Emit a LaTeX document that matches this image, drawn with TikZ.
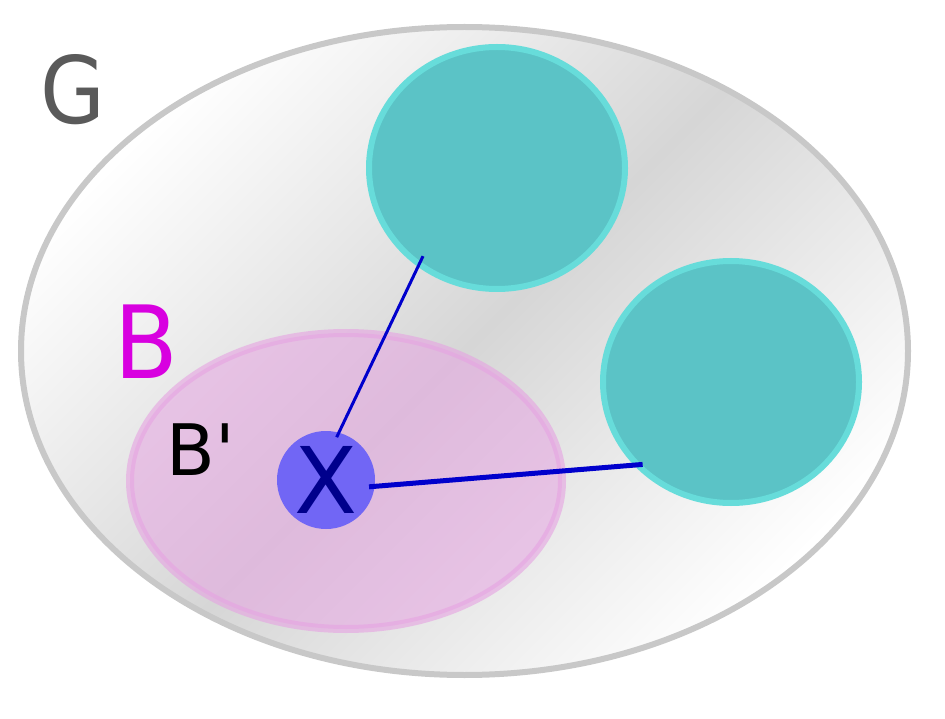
\documentclass[tikz,border=0pt]{standalone}
\usepackage{fontspec}
\setmainfont{DejaVu Sans}
\usetikzlibrary{shapes.geometric,calc}
\definecolor{gborder}{RGB}{200,200,200}
\definecolor{gmid}{RGB}{214,214,214}
\definecolor{tealf}{RGB}{91,195,198}
\definecolor{tealb}{RGB}{103,220,218}
\definecolor{pinkf}{RGB}{230,164,226}
\definecolor{xblue}{RGB}{113,102,245}
\definecolor{linkc}{RGB}{0,0,204}
\definecolor{xtext}{RGB}{0,0,140}
\definecolor{gtext}{RGB}{90,90,90}
\definecolor{btext}{RGB}{216,0,224}
\begin{document}
\begin{tikzpicture}[x=1pt,y=-1pt,
  blob/.style={ellipse, inner sep=0pt, outer sep=0pt},
  teal/.style={blob, draw=tealb, line width=6pt, fill=tealf, minimum width=256pt, minimum height=242pt},
  link/.style={draw=linkc},
  lbl/.style={inner sep=0pt, anchor=base}]
\useasboundingbox (0,0) rectangle (945,719);
\node[blob, draw=gborder, line width=6pt, minimum width=887pt, minimum height=648pt,
  left color=white, right color=white, middle color=gmid, shading angle=45] (G) at (464.5,351) {};
\node[teal] (T1) at (497,168) {};
\node[teal] (T2) at (731,382) {};
\node[blob, fill=pinkf, fill opacity=0.55, draw=pinkf, draw opacity=0.62, line width=8pt,
  minimum width=432pt, minimum height=296pt] (B) at (346,481) {};
\node[circle, fill=xblue, inner sep=0pt, outer sep=0pt, minimum size=98pt,
  text=xtext, font=\fontsize{92}{92}\selectfont] (X) at (326,480) {X};
\draw[link, line width=3pt] ($(X.center)!0.9!(X.76)$) -- ($(T1.center)!0.93!(T1.230)$);
\draw[link, line width=5pt] ($(X.center)!0.89!(X.-9)$) -- ($(T2.center)!0.97!(T2.223)$);
\node[lbl, text=gtext, font=\fontsize{93}{93}\selectfont] (lG) at (73,124) {\scalebox{0.9}[1]{G}};
\node[lbl, text=btext, font=\fontsize{101}{101}\selectfont] (lB) at (146,378) {\scalebox{0.92}[1]{B}};
\node[lbl, text=black, font=\fontsize{71}{71}\selectfont] (lBp) at (201,475) {B\textquotesingle};
\end{tikzpicture}
\end{document}
